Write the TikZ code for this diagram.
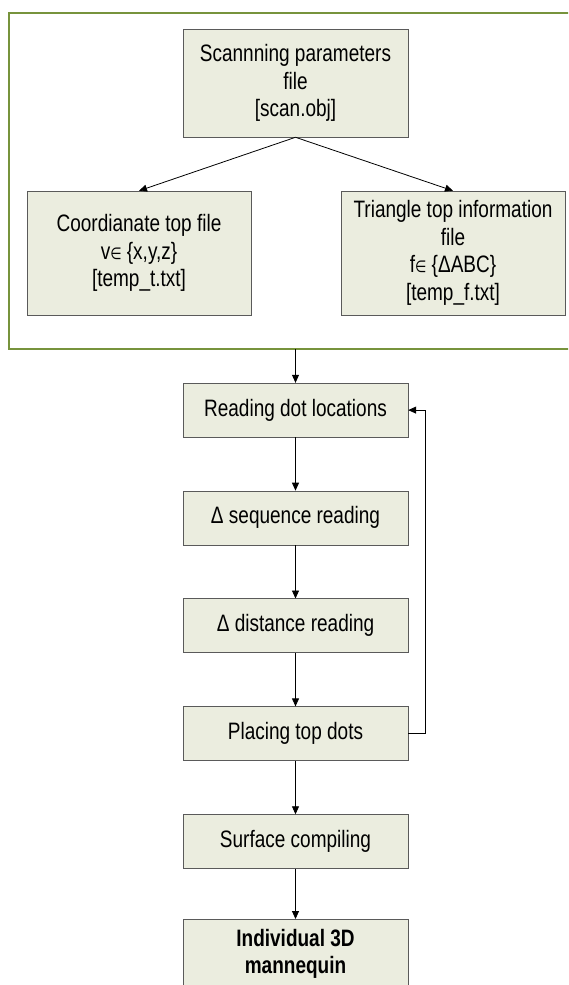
\documentclass[tikz,border=0pt]{standalone}
\usepackage{fontspec}
\setmainfont{Liberation Sans}
\newfontfamily\symfont{DejaVu Sans}
\definecolor{BoxFill}{HTML}{EBEDDF}
\definecolor{BoxLine}{HTML}{5A5A5A}
\definecolor{FrameGreen}{HTML}{77933C}
\usetikzlibrary{arrows.meta,positioning}

\begin{document}
\begin{tikzpicture}[
  x=1pt,y={(0,-0.8pt)},yscale=1.25,
  every node/.append style={transform shape},
  box/.style={draw=BoxLine,fill=BoxFill,align=center,font=\fontsize{19}{22}\selectfont,minimum width=225pt,minimum height=43.2pt,inner sep=2pt},
  filebox/.style={box,minimum width=224pt,minimum height=99.2pt},
  arr/.style={-{Triangle[length=8pt,width=7pt]},black,line width=0.8pt}
]
  \useasboundingbox (0,0) rectangle (568,985);
  \clip (0,0) rectangle (568,985);

  % input files
  \draw[FrameGreen,line width=1.8pt] (9,13) rectangle (600,349);
  \coordinate (frameout) at (295.5,349);
  \node[box,minimum height=86.4pt] (scan) at (295.5,83) {Scannning parameters\\file\\{[}scan.obj{]}};
  \node[filebox] (vert) at (139,253) {Coordianate top file\\v{\symfont\fontsize{13}{22}\selectfont ∈} \{x,y,z\}\\{[}temp\_t.txt{]}};
  \node[filebox] (face) at (453,253) {Triangle top information\\file\\f{\symfont\fontsize{13}{22}\selectfont ∈} \{ΔABC\}\\{[}temp\_f.txt{]}};
  \draw[arr] (scan.south)--(vert.north);
  \draw[arr] (scan.south)--(face.north);

  % processing
  \node[box] (read) at (295.5,410) {Reading dot locations};
  \node[box,below=42.56pt of read] (seq) {Δ sequence reading};
  \node[box,below=42.56pt of seq] (dist) {Δ distance reading};
  \node[box,below=42.56pt of dist] (place) {Placing top dots};
  \node[box,below=42.56pt of place] (surf) {Surface compiling};
  \node[box,below=40pt of surf,minimum height=56pt,font=\fontsize{19}{22}\selectfont\bfseries] (model) {Individual 3D\\mannequin};
  \draw[arr] (frameout)--(read);
  \draw[arr] (read)--(seq);
  \draw[arr] (seq)--(dist);
  \draw[arr] (dist)--(place);
  \draw[arr] (place)--(surf);
  \draw[arr] (surf)--(model);
  \draw[arr] (place.east)--++(17,0)|-(read.east);
\end{tikzpicture}
\end{document}
